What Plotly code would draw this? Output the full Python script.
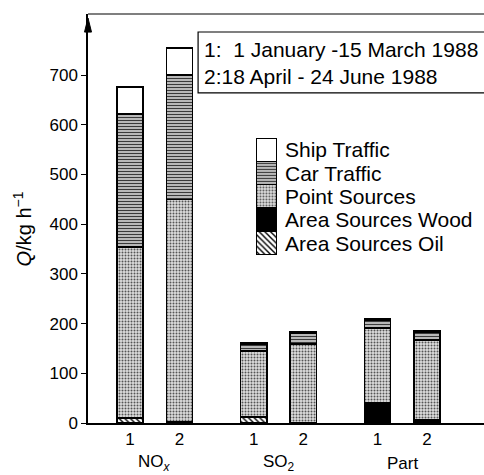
import plotly.graph_objects as go

# ---- data ----
groups = ["NO<sub><i>x</i></sub>", "SO<sub>2</sub>", "Part"]
periods = ["1", "2"]
sources = ["Area Sources Oil", "Area Sources Wood", "Point Sources", "Car Traffic", "Ship Traffic"]
oil = [10, 2, 12, 1, 0, 0]
wood = [0, 0, 0, 0, 40, 7]
point = [344, 448, 133, 158, 151, 160]
car = [268, 250, 14, 21, 16, 15]
ship = [54, 55, 3, 3, 3, 3]
period_text = ["1:\u00a0\u00a01 January -15 March 1988", "2:18 April - 24 June 1988"]
yticks = [0, 100, 200, 300, 400, 500, 600, 700]

values = [oil, wood, point, car, ship]

# ---- styles ----
styles = {
    "Area Sources Oil": dict(color="white", pattern=dict(shape="\\", bgcolor="white", fgcolor="black", size=4, solidity=0.35, fillmode="replace")),
    "Area Sources Wood": dict(color="black"),
    "Point Sources": dict(color="#d8d8d8", pattern=dict(shape=".", bgcolor="#dedede", fgcolor="#555555", size=3, solidity=0.35, fillmode="replace")),
    "Car Traffic": dict(color="#888888", pattern=dict(shape="-", bgcolor="#f4f4f4", fgcolor="#3a3a3a", size=3, solidity=0.55, fillmode="replace")),
    "Ship Traffic": dict(color="white"),
}

# x positions: groups separated by extra gap
xpos = []
xlab = []
for g in range(len(groups)):
    for p in range(len(periods)):
        xpos.append(1 + g * 2.5 + p)
        xlab.append(periods[p])
group_centers = [1 + g * 2.5 + 0.5 for g in range(len(groups))]

fig = go.Figure()
for name, vals in zip(sources, values):
    st = styles[name]
    marker = dict(color=st["color"], line=dict(color="black", width=1.5))
    if "pattern" in st:
        marker["pattern"] = st["pattern"]
    fig.add_trace(go.Bar(x=xpos, y=vals, name=name, width=0.53, marker=marker,
                         showlegend=False, xaxis="x", yaxis="y"))

# custom legend as stacked swatch column on its own axes
for i, name in enumerate(sources):
    st = styles[name]
    marker = dict(color=st["color"], line=dict(color="black", width=1.5))
    if "pattern" in st:
        marker["pattern"] = st["pattern"]
    fig.add_trace(go.Bar(x=[0], y=[1], width=1, marker=marker, showlegend=False,
                         xaxis="x2", yaxis="y2", hoverinfo="skip"))
    fig.add_annotation(x=0.492, xref="paper", y=i + 0.5, yref="y2", text=name,
                       showarrow=False, xanchor="left", yanchor="middle",
                       font=dict(size=21, color="black"))

L, R, T, B = 88, 0, 14, 52
W, H = 484, 475
fig.update_layout(
    width=W, height=H,
    margin=dict(l=L, r=R, t=T, b=B),
    barmode="stack",
    plot_bgcolor="white", paper_bgcolor="white",
    font=dict(family="Liberation Sans, Arial, sans-serif", color="black", size=17),
    xaxis=dict(range=[0.15, 8.15], tickvals=xpos, ticktext=xlab, showline=True,
               linecolor="black", linewidth=1.5, ticks="", showgrid=False, zeroline=False,
               tickfont=dict(size=17)),
    yaxis=dict(range=[0, 823], tickvals=yticks, showline=True, linecolor="black",
               linewidth=1.5, ticks="outside", ticklen=5, tickwidth=1.2, tickcolor="black",
               showgrid=False, zeroline=False, tickfont=dict(size=17)),
    xaxis2=dict(domain=[0.424, 0.477], range=[-0.5, 0.5], visible=False, anchor="y2"),
    yaxis2=dict(domain=[0.411, 0.697], range=[0, 5], visible=False, anchor="x2"),
)

# group labels
for gx, gl in zip(group_centers, groups):
    fig.add_annotation(x=gx, xref="x", y=-0.098, yref="paper", text=gl, showarrow=False,
                       xanchor="center", yanchor="middle", font=dict(size=17))

# y-axis title
fig.add_annotation(x=-0.165, xref="paper", y=0.475, yref="paper",
                   text="<i>Q</i>/kg h<sup>\u22121</sup>", textangle=-90, showarrow=False,
                   xanchor="center", yanchor="middle", font=dict(size=20))

# arrow head at top of y-axis
fig.add_shape(type="path", xref="paper", yref="paper", xsizemode="pixel", ysizemode="pixel",
              xanchor=0, yanchor=0.99, path="M0,0 L-3.5,-14 L3.5,-14 Z",
              fillcolor="black", line=dict(color="black", width=1))
# top line
fig.add_shape(type="line", xref="paper", yref="paper", x0=0, x1=1, y0=1, y1=1,
              line=dict(color="black", width=1.2))

# period box
fig.add_shape(type="rect", xref="paper", yref="paper", x0=0.278, x1=1.05, y0=0.807, y1=0.956,
              line=dict(color="black", width=1.2), fillcolor="white")
for t, yy in zip(period_text, [0.912, 0.846]):
    fig.add_annotation(x=0.288, xref="paper", y=yy, yref="paper", text=t, showarrow=False,
                       xanchor="left", yanchor="middle", font=dict(size=21))

fig.write_html("out.html")
